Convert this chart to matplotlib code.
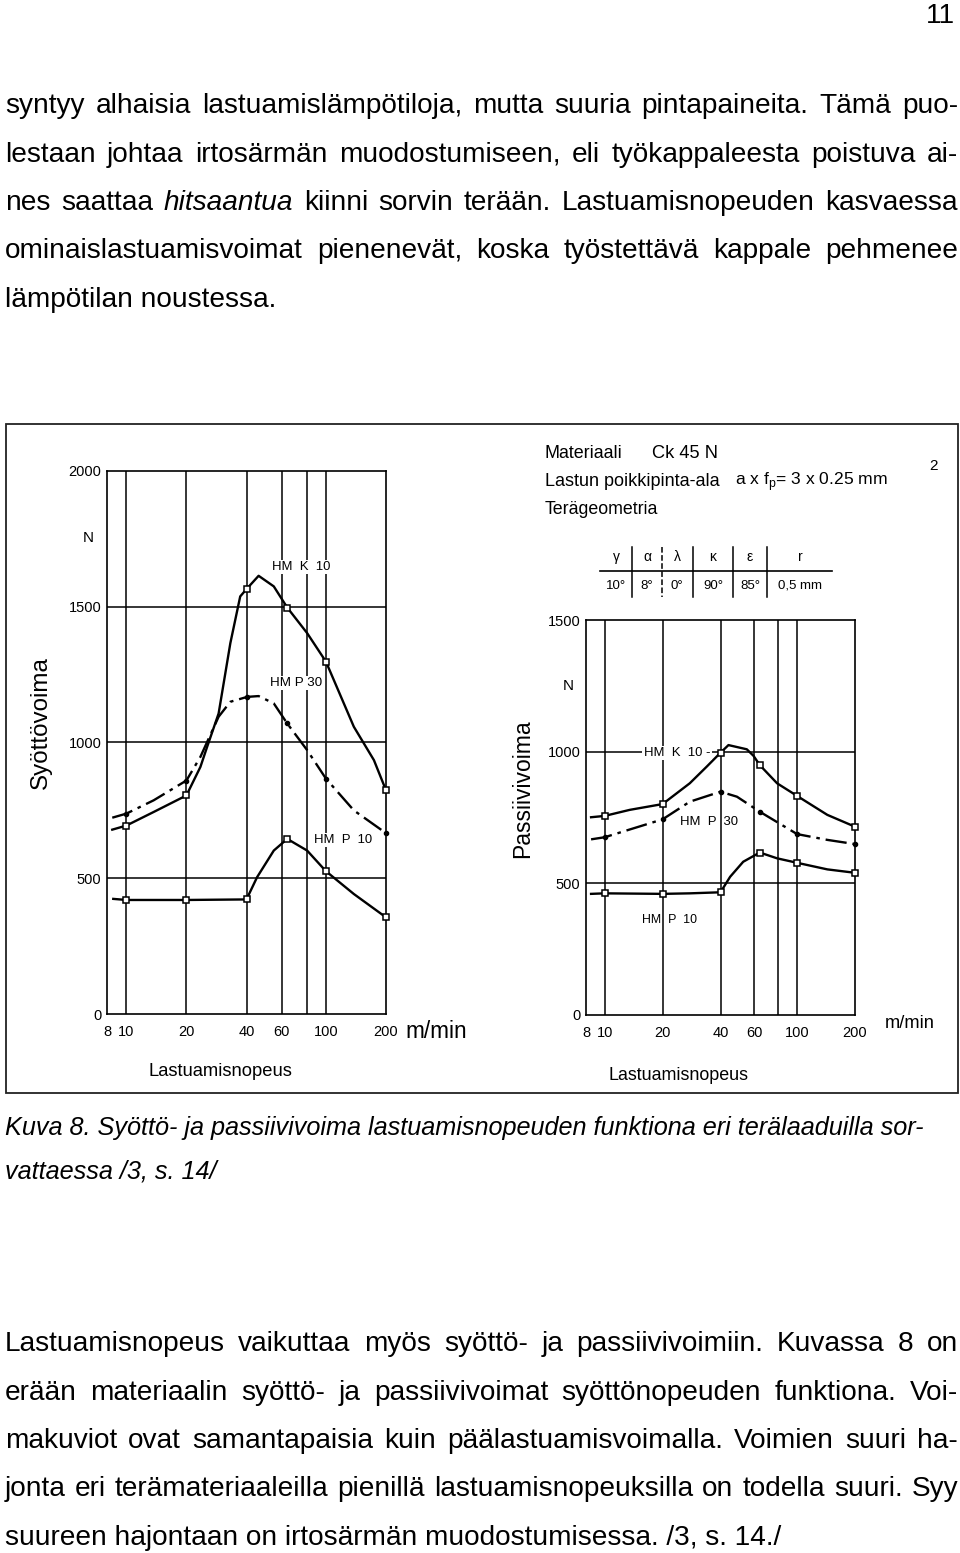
import matplotlib
matplotlib.use("Agg")
import matplotlib.pyplot as plt
from matplotlib import font_manager
from matplotlib.transforms import Affine2D
from matplotlib.patches import Rectangle
from matplotlib.lines import Line2D
from matplotlib.ticker import NullLocator

W, H = 960, 1553

names = {f.name for f in font_manager.fontManager.ttflist}
NARROW = "Liberation Sans Narrow" if "Liberation Sans Narrow" in names else "Liberation Sans"
plt.rcParams["font.family"] = [NARROW, "DejaVu Sans"]

# --------------------------------------------------
# Page text
# --------------------------------------------------
para1 = [
    "syntyy alhaisia lastuamislämpötiloja, mutta suuria pintapaineita. Tämä puo-",
    "lestaan johtaa irtosärmän muodostumiseen, eli työkappaleesta poistuva ai-",
    "nes saattaa *hitsaantua* kiinni sorvin terään. Lastuamisnopeuden kasvaessa",
    "ominaislastuamisvoimat pienenevät, koska työstettävä kappale pehmenee",
    "lämpötilan noustessa.",
]
caption = [
    "Kuva 8. Syöttö- ja passiivivoima lastuamisnopeuden funktiona eri terälaaduilla sor-",
    "vattaessa /3, s. 14/",
]
para2 = [
    "Lastuamisnopeus vaikuttaa myös syöttö- ja passiivivoimiin. Kuvassa 8 on",
    "erään materiaalin syöttö- ja passiivivoimat syöttönopeuden funktiona. Voi-",
    "makuviot ovat samantapaisia kuin päälastuamisvoimalla. Voimien suuri ha-",
    "jonta eri terämateriaaleilla pienillä lastuamisnopeuksilla on todella suuri. Syy",
    "suureen hajontaan on irtosärmän muodostumisessa. /3, s. 14./",
]

# --------------------------------------------------
# Chart data (cutting speed m/min, force N)
# --------------------------------------------------
x_ticks = [8, 10, 20, 40, 60, 100, 200]
x_tick_labels = ["8", "10", "20", "40", "60", "100", "200"]
grid_x = [10, 20, 40, 60, 80, 100]
marker_speeds = [10, 20, 40, 64, 100, 200]

# Syöttövoima (left)
feed_yticks = [0, 500, 1000, 1500, 2000]
feed_k10_pts = [694, 805, 1565, 1497, 1298, 824]
feed_p30_pts = [738, 860, 1168, 1070, 867, 666]
feed_p10_pts = [420, 420, 422, 645, 526, 356]

feed_k10_s = [8.5, 10, 13.7, 20, 23.5, 25.4, 29, 33.2, 37.2, 40, 46, 54.8, 64, 80.5, 100, 138, 174, 200]
feed_k10_v = [679, 694, 744, 805, 910, 984, 1107, 1366, 1538, 1565, 1614, 1575, 1497, 1403, 1298, 1058, 935, 824]
feed_p30_s = [8.5, 10, 13.7, 20, 23.5, 25.4, 29, 33.2, 40.3, 46, 54.8, 64, 80.5, 100, 138, 200]
feed_p30_v = [723, 738, 787, 860, 947, 1002, 1095, 1150, 1168, 1171, 1144, 1070, 972, 867, 750, 666]
feed_p10_s = [8.6, 10, 20, 40, 45.2, 54.8, 64, 80.5, 100, 138, 200]
feed_p10_v = [424, 420, 420, 422, 504, 602, 645, 602, 526, 442, 356]

# Passiivivoima (right)
pass_yticks = [0, 500, 1000, 1500]
pass_k10_pts = [756, 801, 996, 949, 832, 715]
pass_p30_pts = [675, 743, 848, 772, 687, 649]
pass_p10_pts = [462, 460, 466, 617, 578, 540]

pass_k10_s = [8.5, 10, 13.5, 20, 27.7, 33.9, 40, 44, 54.8, 59.4, 64, 78.7, 100, 143.6, 200]
pass_k10_v = [751, 756, 779, 801, 880, 943, 996, 1025, 1009, 984, 949, 880, 832, 760, 715]
pass_p30_s = [8.5, 10, 20, 27.7, 40, 48.7, 64, 100, 143.6, 200]
pass_p30_v = [667, 675, 743, 810, 848, 829, 772, 687, 665, 649]
pass_p10_s = [8.5, 10, 20, 27.7, 40, 44.9, 52.5, 64, 78.7, 100, 143.6, 200]
pass_p10_v = [460, 462, 460, 462, 466, 525, 582, 617, 595, 578, 553, 540]

table_symbols = ["γ", "α", "λ", "κ", "ε", "r"]
table_values = ["10°", "8°", "0°", "90°", "85°", "0,5 mm"]

# --------------------------------------------------
# Figure and helpers (pixel coords, y from top)
# --------------------------------------------------
fig = plt.figure(figsize=(W / 100, H / 100), dpi=100)
pix = Affine2D().scale(1 / W, -1 / H).translate(0, 1) + fig.transFigure
renderer = fig.canvas.get_renderer()


def put(s, x, y, width=None, size=10, rot=0, **kw):
    t = fig.text(x, y, s, transform=pix, fontsize=size, rotation=rot, **kw)
    if width:
        bb = t.get_window_extent(renderer)
        cur = bb.height if rot == 90 else bb.width
        t.set_fontsize(size * width / cur)
    return t


def fit_size(s, width, **kw):
    t = fig.text(0, 0, s, fontsize=10, **kw)
    w = t.get_window_extent(renderer).width
    t.remove()
    return 10 * width / w


def justify(line, x0, x1, y, size):
    texts = []
    for w in line.split(" "):
        style = "italic" if w.startswith("*") else "normal"
        texts.append(fig.text(0, y, w.strip("*"), transform=pix, fontsize=size,
                              style=style, va="baseline"))
    widths = [t.get_window_extent(renderer).width for t in texts]
    gap = (x1 - x0 - sum(widths)) / (len(texts) - 1)
    x = x0
    for t, w in zip(texts, widths):
        t.set_x(x)
        x += w + gap


body_size = fit_size(para2[-1], 778)
cap_size = fit_size(caption[0], 926, style="italic")

put("11", 955, 23, size=body_size, ha="right", va="baseline")

for i, line in enumerate(para1):
    y = 113 + i * 48.5
    if i < len(para1) - 1:
        justify(line, 5, 958, y, body_size)
    else:
        put(line, 5, y, size=body_size, va="baseline")

for i, line in enumerate(caption):
    put(line, 5, 1135 + i * 43, size=cap_size, style="italic", va="baseline")

for i, line in enumerate(para2):
    y = 1351 + i * 48.5
    if i < len(para2) - 1:
        justify(line, 5, 958, y, body_size)
    else:
        put(line, 5, y, size=body_size, va="baseline")

# frame round the figure
fig.add_artist(Rectangle((6, 424), 952, 669, transform=pix, fill=False,
                         ec="#222222", lw=1.3))


# --------------------------------------------------
# Charts
# --------------------------------------------------
def make_axes(x0, x1, ytop, ybot, yticks):
    ax = fig.add_axes([x0 / W, 1 - ybot / H, (x1 - x0) / W, (ybot - ytop) / H])
    ax.set_xscale("log")
    ax.set_xlim(8, 200)
    ax.set_ylim(0, yticks[-1])
    ax.set_xticks(x_ticks)
    ax.set_xticklabels(x_tick_labels)
    ax.xaxis.set_minor_locator(NullLocator())
    ax.set_yticks(yticks)
    ax.set_yticklabels([str(v) for v in yticks])
    ax.tick_params(length=0, labelsize=10.5)
    ax.tick_params(axis="x", pad=8)
    ax.tick_params(axis="y", pad=4)
    for v in grid_x:
        ax.axvline(v, color="k", lw=1.1, zorder=1)
    for v in yticks[1:-1]:
        ax.axhline(v, color="k", lw=1.1, zorder=1)
    for sp in ax.spines.values():
        sp.set_linewidth(1.2)
    return ax


def draw_curves(ax, k10, p30, p10, pts):
    ax.plot(k10[0], k10[1], color="k", lw=1.7, zorder=3, clip_on=False)
    ax.plot(p30[0], p30[1], color="k", lw=1.7, zorder=3, dashes=(9, 2.5, 1.5, 2.5),
            clip_on=False)
    ax.plot(p10[0], p10[1], color="k", lw=1.7, zorder=3, clip_on=False)
    sq = dict(ls="none", marker="s", ms=4.8, mfc="white", mec="k", mew=1.1,
              zorder=4, clip_on=False)
    ax.plot(marker_speeds, pts[0], **sq)
    ax.plot(marker_speeds, pts[1], ls="none", marker="o", ms=3, color="k",
            zorder=4, clip_on=False)
    ax.plot(marker_speeds, pts[2], **sq)


ax1 = make_axes(107, 386, 471, 1014, feed_yticks)
draw_curves(ax1, (feed_k10_s, feed_k10_v), (feed_p30_s, feed_p30_v),
            (feed_p10_s, feed_p10_v), (feed_k10_pts, feed_p30_pts, feed_p10_pts))

ax2 = make_axes(586, 855, 620, 1015, pass_yticks)
draw_curves(ax2, (pass_k10_s, pass_k10_v), (pass_p30_s, pass_p30_v),
            (pass_p10_s, pass_p10_v), (pass_k10_pts, pass_p30_pts, pass_p10_pts))

lbl = dict(ha="center", va="center")
wbox = dict(fc="white", ec="none", pad=1)

# left chart labels
put("Syöttövoima", 41, 723, width=133, rot=90, **lbl)
put("N", 88, 538, size=11, **lbl)
put("Lastuamisnopeus", 220, 1071, width=144, **lbl)
put("m/min", 436, 1031, width=62, **lbl)
put("HM  K  10", 301, 567, width=58, bbox=wbox, **lbl)
put("HM P 30", 296, 683, width=52, bbox=wbox, **lbl)
put("HM  P  10", 343, 840, width=58, bbox=wbox, **lbl)

# right chart labels
put("Passiivivoima", 523, 789, width=139, rot=90, **lbl)
put("N", 568, 686, size=11, **lbl)
put("Lastuamisnopeus", 678, 1076, width=140, **lbl)
put("m/min", 910, 1024, width=50, **lbl)
put("HM  K  10 -", 677, 753, width=66, bbox=wbox, **lbl)
put("HM  P  30", 709, 822, width=58, **lbl)
put("HM  P  10", 670, 920, width=55, **lbl)

# header of right chart
put("Materiaali", 545, 453, width=78, va="center")
put("Ck 45 N", 652, 453, width=66, va="center")
put("Lastun poikkipinta-ala", 545, 482, width=174, va="center")
put(r"a x f$_\mathregular{p}$= 3 x 0.25 mm", 735, 482, width=153, va="center")
put("Terägeometria", 545, 510, width=114, va="center")
put("2", 933, 466, size=11, **lbl)

col_x = [616, 647, 677, 713, 750, 800]
for sym, val, cx in zip(table_symbols, table_values, col_x):
    put(sym, cx, 557, size=10, **lbl)
    put(val, cx, 586, size=9.5, **lbl)
fig.add_artist(Line2D([600, 832], [571, 571], transform=pix, color="k", lw=1.2))
for i, sx in enumerate([632, 662, 693, 733, 767]):
    fig.add_artist(Line2D([sx, sx], [547, 597], transform=pix, color="k", lw=1.1,
                          ls="--" if i == 1 else "-"))

fig.savefig("out.png", dpi=100)
